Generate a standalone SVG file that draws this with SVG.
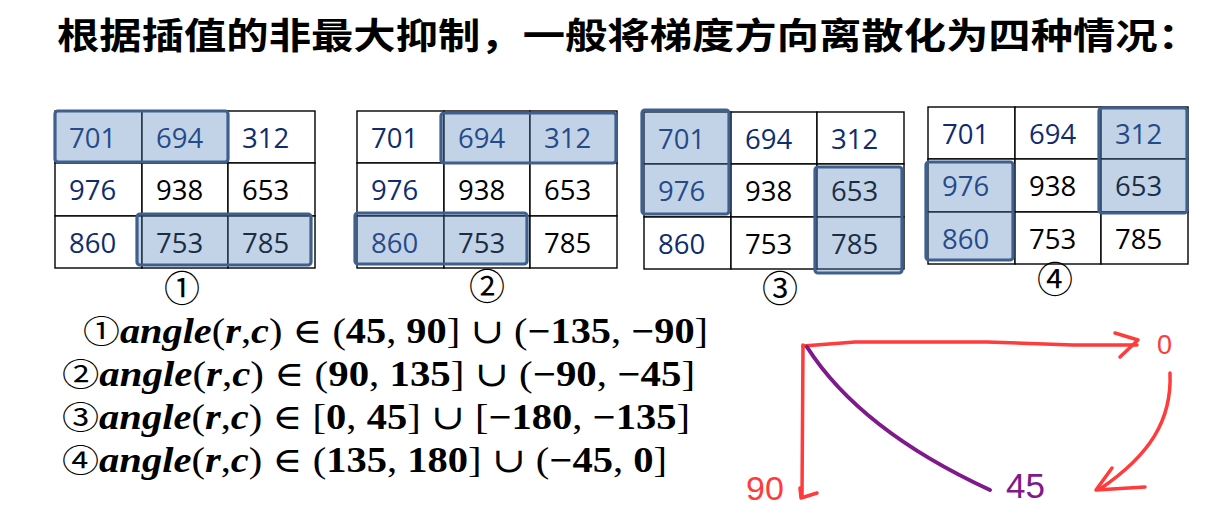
<svg xmlns="http://www.w3.org/2000/svg" width="1216" height="507" viewBox="0 0 1216 507">
<style>
.cell{fill:#fff;stroke:#000;stroke-width:1.4}
.num{font-family:"Open Sans","Liberation Sans",sans-serif;font-size:27.5px}
.nv{fill:#0e2d6e}
.bk{fill:#000}
.hl{fill:#4f81bd;fill-opacity:0.35;stroke:#3f5f8c;stroke-width:3.2}
.circ{font-family:"Noto Sans CJK SC",sans-serif;font-size:36px;fill:#000;text-anchor:middle}
.f{font-family:"Liberation Serif","DejaVu Serif",serif;font-size:35px;fill:#000}
.bi{font-weight:bold;font-style:italic}
.b{font-weight:bold}
.cc{font-family:"Noto Sans CJK SC",sans-serif;font-size:32px}
.cn{font-family:"Noto Sans CJK SC",sans-serif;font-size:36px}
.red{fill:none;stroke:#ff3b3b;stroke-width:3.5;stroke-linecap:round;stroke-linejoin:round}
.pur{fill:none;stroke:#7e1a8c;stroke-width:4;stroke-linecap:round}
.hand{font-family:"Liberation Sans",sans-serif}
</style>
<defs>
<g id="cells">
<rect class="cell" x="0" y="0" width="87" height="52"/>
<rect class="cell" x="87" y="0" width="86" height="52"/>
<rect class="cell" x="173" y="0" width="87" height="52"/>
<rect class="cell" x="0" y="52" width="87" height="53"/>
<rect class="cell" x="87" y="52" width="86" height="53"/>
<rect class="cell" x="173" y="52" width="87" height="53"/>
<rect class="cell" x="0" y="105" width="87" height="52"/>
<rect class="cell" x="87" y="105" width="86" height="52"/>
<rect class="cell" x="173" y="105" width="87" height="52"/>
<text class="num nv" x="14" y="37">701</text>
<text class="num nv" x="101" y="37">694</text>
<text class="num nv" x="187" y="37">312</text>
<text class="num nv" x="14" y="89">976</text>
<text class="num bk" x="101" y="89">938</text>
<text class="num bk" x="187" y="89">653</text>
<text class="num nv" x="14" y="142">860</text>
<text class="num bk" x="101" y="142">753</text>
<text class="num bk" x="187" y="142">785</text>
</g>
</defs>
<g id="title">
<text class="cn" x="57" y="49" font-weight="bold" textLength="1143" lengthAdjust="spacingAndGlyphs">根据插值的非最大抑制，一般将梯度方向离散化为四种情况：</text>
</g>
<g id="grid1">
<use href="#cells" x="55" y="111"/>
<rect class="hl" x="55" y="111" width="173" height="51" rx="3"/>
<rect class="hl" x="137" y="214" width="174" height="51" rx="3"/>
<text class="circ" x="182" y="302">①</text>
</g>
<g id="grid2">
<use href="#cells" x="357" y="111"/>
<rect class="hl" x="441" y="113" width="175" height="50" rx="3"/>
<rect class="hl" x="355" y="213" width="172" height="51" rx="3"/>
<text class="circ" x="487" y="300">②</text>
</g>
<g id="grid3">
<use href="#cells" x="644" y="112"/>
<rect class="hl" x="642" y="110" width="87" height="104" rx="3"/>
<rect class="hl" x="815" y="167" width="87" height="106" rx="3"/>
<text class="circ" x="780" y="302">③</text>
</g>
<g id="grid4">
<use href="#cells" x="928" y="107"/>
<rect class="hl" x="1099" y="108" width="88" height="105" rx="3"/>
<rect class="hl" x="926" y="162" width="87" height="98" rx="3"/>
<text class="circ" x="1055" y="293">④</text>
</g>
<g id="formulas">
<text class="f" x="83" y="343" textLength="625" lengthAdjust="spacingAndGlyphs"><tspan class="cc">①</tspan><tspan class="bi">angle</tspan>(<tspan class="bi">r</tspan>,<tspan class="bi">c</tspan>) ∈ (<tspan class="b">45</tspan>, <tspan class="b">90</tspan>] ∪ (<tspan class="b">−135</tspan>, <tspan class="b">−90</tspan>]</text>
<text class="f" x="62" y="386" textLength="633" lengthAdjust="spacingAndGlyphs"><tspan class="cc">②</tspan><tspan class="bi">angle</tspan>(<tspan class="bi">r</tspan>,<tspan class="bi">c</tspan>) ∈ (<tspan class="b">90</tspan>, <tspan class="b">135</tspan>] ∪ (<tspan class="b">−90</tspan>, <tspan class="b">−45</tspan>]</text>
<text class="f" x="62" y="429" textLength="628" lengthAdjust="spacingAndGlyphs"><tspan class="cc">③</tspan><tspan class="bi">angle</tspan>(<tspan class="bi">r</tspan>,<tspan class="bi">c</tspan>) ∈ [<tspan class="b">0</tspan>, <tspan class="b">45</tspan>] ∪ [<tspan class="b">−180</tspan>, <tspan class="b">−135</tspan>]</text>
<text class="f" x="62" y="472" textLength="605" lengthAdjust="spacingAndGlyphs"><tspan class="cc">④</tspan><tspan class="bi">angle</tspan>(<tspan class="bi">r</tspan>,<tspan class="bi">c</tspan>) ∈ (<tspan class="b">135</tspan>, <tspan class="b">180</tspan>] ∪ (<tspan class="b">−45</tspan>, <tspan class="b">0</tspan>]</text>
</g>
<g id="connectors">
<path class="red" d="M803 346 L855 342 L987 342 L1073 345 L1137 345"/>
<path class="red" d="M1115 333 L1138 340 L1120 357"/>
<path class="red" d="M803 345 L802 497"/>
<path class="red" d="M800 488 L801 498 L817 493"/>
<path class="red" d="M1170 373 C1172 420 1150 455 1100 489"/>
<path class="red" d="M1112 468 L1096 490 L1145 487"/>
<path class="pur" d="M807 347 Q860 430 990 490"/>
<text class="hand" x="1157" y="354" font-size="27" fill="#ff3b3b">0</text>
<text class="hand" x="746" y="500" font-size="34" fill="#ff3b3b">90</text>
<text class="hand" x="1006" y="498" font-size="35" fill="#7e1a8c">45</text>
</g>
</svg>
